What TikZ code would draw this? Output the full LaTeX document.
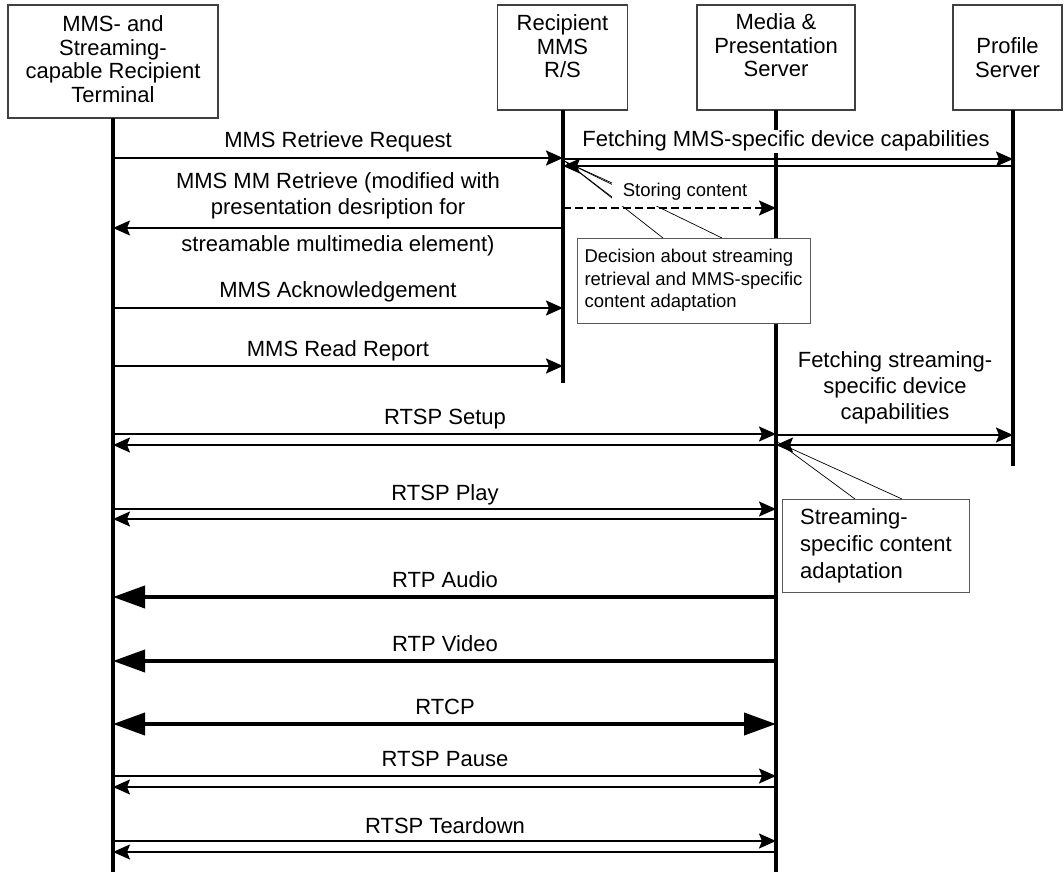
\documentclass[tikz,border=0pt]{standalone}
\usepackage{fontspec}
\setmainfont{Liberation Sans}
\usetikzlibrary{arrows.meta}
\begin{document}
\begin{tikzpicture}[x=1pt,y=-1pt,
  every node/.style={inner sep=0pt,outer sep=0pt},
  entity/.style={draw=black!75,line width=1.2pt,fill=white},
  etext/.style={anchor=north,align=center,font=\fontsize{22}{23.6}\selectfont},
  lifeline/.style={line width=4pt},
  thinhead/.style={-{Stealth[length=17pt,width=15pt,inset=3pt]}},
  msg/.style={line width=1.8pt,thinhead},
  store/.style={line width=1.8pt,dash pattern=on 8pt off 4pt,thinhead},
  bulk/.style={line width=4pt,-{Triangle[length=32pt,width=22pt]}},
  bulkboth/.style={line width=4pt,{Triangle[length=32pt,width=22pt]}-{Triangle[length=32pt,width=22pt]}},
  lbl/.style={font=\fontsize{22}{26}\selectfont,anchor=base},
  lblm/.style={font=\fontsize{22}{26}\selectfont,anchor=north,align=center},
  note/.style={draw=black!65,line width=0.8pt,fill=white,align=left},
  pointer/.style={line width=0.7pt},
]
\useasboundingbox (0,0) rectangle (1064,874);

% entities
\node[entity,minimum width=210pt,minimum height=113pt] (term) at (113,61.5) {};
\node[etext] (termtx) at (113,15.5) {MMS- and\\Streaming-\\capable Recipient\\Terminal};
\node[entity,minimum width=130pt,minimum height=105pt] (rs) at (562.5,57.5) {};
\node[etext] (rstx) at (562.5,14.5) {Recipient\\MMS\\R/S};
\node[entity,minimum width=158pt,minimum height=105pt] (mps) at (776,57.5) {};
\node[etext] (mpstx) at (776,13.5) {Media \&\\Presentation\\Server};
\node[entity,minimum width=109pt,minimum height=105pt] (prof) at (1007.5,57.5) {};
\node[etext] (proftx) at (1007.5,38) {Profile\\Server};

% lifelines
\coordinate (lT) at (113,118);
\coordinate (lR) at (563,110);
\coordinate (lM) at (776,110);
\coordinate (lP) at (1013,110);
\coordinate (eT) at (113,872);
\coordinate (eR) at (563,383);
\coordinate (eM) at (776,872);
\coordinate (eP) at (1013,466);
\draw[lifeline] (lT) -- (eT);
\draw[lifeline] (lR) -- (eR);
\draw[lifeline] (lM) -- (eM);
\draw[lifeline] (lP) -- (eP);

% message rows
\coordinate (r1) at (0,158);
\coordinate (r2a) at (0,159);
\coordinate (r2b) at (0,166);
\coordinate (r3) at (0,228);
\coordinate (r4) at (0,208);
\coordinate (r5) at (0,308);
\coordinate (r6) at (0,366);
\coordinate (r7a) at (0,435);
\coordinate (r7b) at (0,445);
\coordinate (r8a) at (0,434);
\coordinate (r8b) at (0,445);
\coordinate (r9a) at (0,509);
\coordinate (r9b) at (0,519);
\coordinate (r10) at (0,597);
\coordinate (r11) at (0,661);
\coordinate (r12) at (0,724);
\coordinate (r13a) at (0,776);
\coordinate (r13b) at (0,787);
\coordinate (r14a) at (0,841);
\coordinate (r14b) at (0,852);

% MMS retrieval
\draw[msg] (lT |- r1) -- (lR |- r1);
\node[lbl] (m1) at (338,148) {MMS Retrieve Request};

\node[lbl,fill=white,inner xsep=2pt,inner ysep=1pt] (m2) at (786,147)
  {Fetching MMS-specific device capabilities};
\draw[msg] (lR |- r2a) -- (lP |- r2a);
\draw[msg] (lP |- r2b) -- (lR |- r2b);

\draw[msg] (lR |- r3) -- (lT |- r3);
\node[lblm] (m3) at (338,173) {MMS MM Retrieve (modified with\\presentation desription for};
\node[lbl] (m3b) at (338,252) {streamable multimedia element)};

% decision callout pointer
\coordinate (tipS) at (566,162);
\draw[pointer] (663,238) -- (tipS) -- (722,238);

% storing content
\node[fill=white,minimum width=146pt,minimum height=28pt,
  font=\fontsize{18.5}{22.5}\selectfont] (st) at (685,191.8) {Storing content};
\draw[pointer] (612,183) -- (tipS) -- (612,197);
\draw[store] (lR |- r4) -- (lM |- r4);

\node[note,minimum width=233pt,minimum height=85pt,
  font=\fontsize{18.5}{22.5}\selectfont] (dec) at (693.5,280.5)
  {Decision about streaming\\retrieval and MMS-specific\\content adaptation};

\draw[msg] (lT |- r5) -- (lR |- r5);
\node[lbl] (m5) at (338,298) {MMS Acknowledgement};

\draw[msg] (lT |- r6) -- (lR |- r6);
\node[lbl] (m6) at (338,356) {MMS Read Report};

% streaming session set-up
\draw[msg] (lM |- r7a) -- (lP |- r7a);
\draw[msg] (lP |- r7b) -- (lM |- r7b);
\node[lblm] (m7) at (895,352) {Fetching streaming-\\specific device\\capabilities};

\draw[msg] (lT |- r8a) -- (lM |- r8a);
\draw[msg] (lM |- r8b) -- (lT |- r8b);
\node[lbl] (m8) at (445,424) {RTSP Setup};

\coordinate (tipM) at (779,443);
\draw[pointer] (855,499) -- (tipM) -- (902,499);
\node[note,minimum width=187pt,minimum height=93pt,
  font=\fontsize{22}{27}\selectfont] (adapt) at (876,545.5)
  {Streaming-\\specific content\\adaptation};

\draw[msg] (lT |- r9a) -- (lM |- r9a);
\draw[msg] (lM |- r9b) -- (lT |- r9b);
\node[lbl] (m9) at (445,500) {RTSP Play};

% media streams
\draw[bulk] (lM |- r10) -- (lT |- r10);
\node[lbl] (m10) at (445,587) {RTP Audio};

\draw[bulk] (lM |- r11) -- (lT |- r11);
\node[lbl] (m11) at (445,651) {RTP Video};

\draw[bulkboth] (lT |- r12) -- (lM |- r12);
\node[lbl] (m12) at (445,714) {RTCP};

% session control
\draw[msg] (lT |- r13a) -- (lM |- r13a);
\draw[msg] (lM |- r13b) -- (lT |- r13b);
\node[lbl] (m13) at (445,766) {RTSP Pause};

\draw[msg] (lT |- r14a) -- (lM |- r14a);
\draw[msg] (lM |- r14b) -- (lT |- r14b);
\node[lbl] (m14) at (445,833) {RTSP Teardown};
\end{tikzpicture}
\end{document}
